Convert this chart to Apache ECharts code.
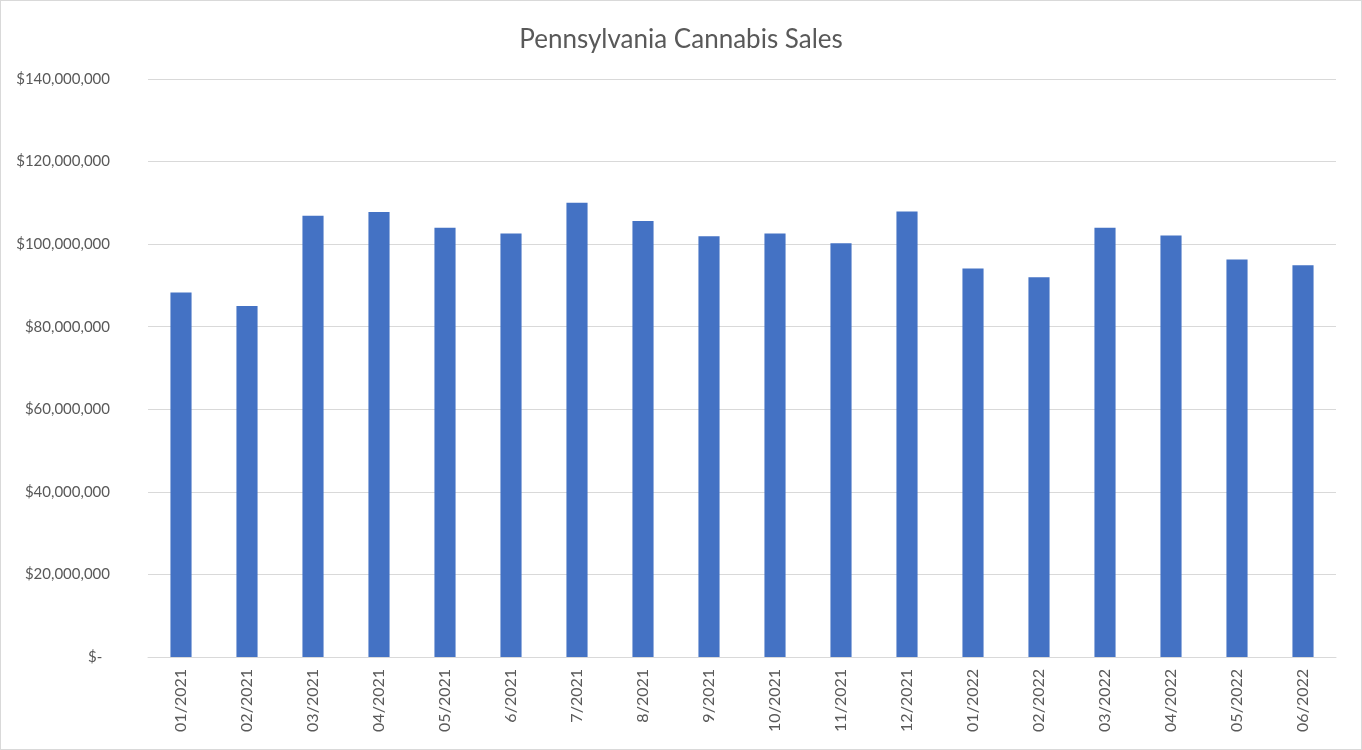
<!DOCTYPE html>
<html>
<head>
<meta charset="utf-8">
<script src="https://cdn.jsdelivr.net/npm/echarts@6/dist/echarts.min.js"></script>
<style>
  html, body { margin: 0; padding: 0; background: #fff; }
  #chart { width: 1360px; height: 748px; border: 1px solid #d9d9d9; }
</style>
</head>
<body>
<div id="chart"></div>
<script>
// months and monthly sales (USD)
const months = ['01/2021', '02/2021', '03/2021', '04/2021', '05/2021', '6/2021', '7/2021', '8/2021', '9/2021',
  '10/2021', '11/2021', '12/2021', '01/2022', '02/2022', '03/2022', '04/2022', '05/2022', '06/2022'];
const sales = [88300000, 85000000, 106900000, 107800000, 104000000, 102600000, 110000000, 105600000, 101900000,
  102600000, 100200000, 107900000, 94100000, 92000000, 104000000, 102100000, 96300000, 94900000];
const yTicks = [0, 20000000, 40000000, 60000000, 80000000, 100000000, 120000000, 140000000];

const myChart = echarts.init(document.getElementById('chart'));

function money(v) {
  if (v === 0) return '$-  ';
  return '$' + v.toLocaleString('en-US');
}

myChart.setOption({
  animation: false,
  textStyle: { fontFamily: 'Lato' },
  title: {
    text: 'Pennsylvania Cannabis Sales',
    left: 'center',
    top: 21,
    textStyle: { fontFamily: 'Lato', fontSize: 26, fontWeight: 'normal', color: '#595959' },
  },
  grid: { left: 147, right: 25, top: 78, bottom: 92 },
  xAxis: {
    type: 'category',
    data: months,
    axisLine: { lineStyle: { color: '#d9d9d9', width: 1 } },
    axisTick: { show: false },
    axisLabel: { interval: 0, rotate: 90, color: '#595959', fontSize: 16, margin: 12 },
  },
  yAxis: {
    type: 'value',
    min: yTicks[0],
    max: yTicks[yTicks.length - 1],
    interval: yTicks[1] - yTicks[0],
    axisLine: { show: false },
    axisTick: { show: false },
    splitLine: { lineStyle: { color: '#d9d9d9', width: 1 } },
    axisLabel: { color: '#595959', fontSize: 15, margin: 38, formatter: money },
  },
  series: [
    {
      name: 'Sales',
      type: 'bar',
      data: sales,
      barWidth: '32%',
      itemStyle: { color: '#4472c4' },
    },
  ],
});
</script>
</body>
</html>
